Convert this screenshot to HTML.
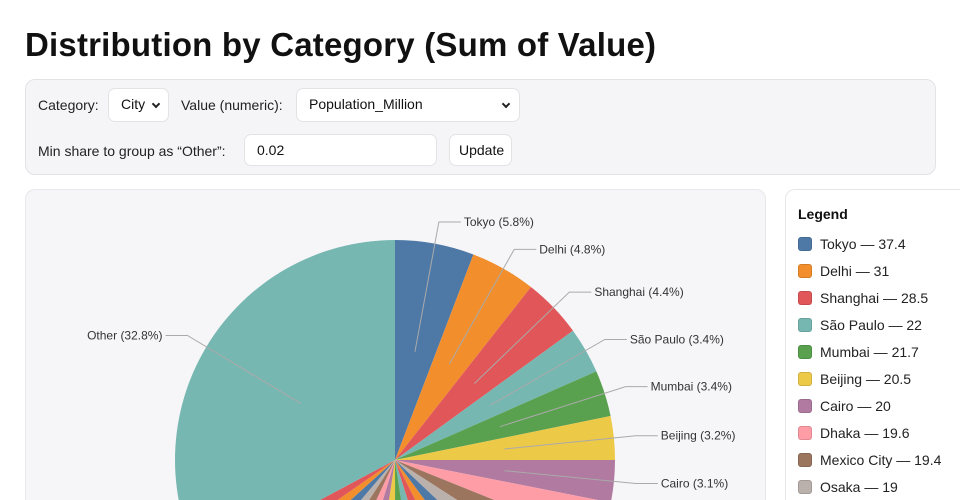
<!DOCTYPE html>
<html><head><meta charset="utf-8">
<style>
*{box-sizing:border-box}
body{margin:0;width:960px;height:500px;overflow:hidden;background:#fff;font-family:"Liberation Sans",sans-serif;color:#111}
h1{position:absolute;left:25px;top:26px;margin:0;font-size:33px;font-weight:bold;letter-spacing:0.2px}
.ctrl{position:absolute;left:25px;top:79px;width:911px;height:96px;background:#f5f5f7;border:1px solid #e3e3e6;border-radius:10px;font-size:14px;color:#222}
.ctrl .lbl{position:absolute}
.box{position:absolute;background:#fff;border:1px solid #e3e3e6;border-radius:7px;font-size:14px;color:#111;padding-left:12px;line-height:30px}
.chv{position:absolute;width:6px;height:6px;border-right:2px solid #222;border-bottom:2px solid #222;transform:rotate(45deg)}
.chart{position:absolute;left:25px;top:189px;width:741px;height:311px;background:#f6f6f8;border:1px solid #e8e8ea;border-bottom:none;border-radius:10px 10px 0 0}
.legend{position:absolute;left:785px;top:189px;width:175px;height:311px;background:#fff;border:1px solid #e6e6e8;border-right:none;border-bottom:none;border-radius:10px 0 0 0}
.legend h3{position:absolute;left:12px;top:16px;margin:0;font-size:14px;font-weight:bold}
.li{position:absolute;left:12px;font-size:14px;color:#222;height:16px;line-height:16px;white-space:nowrap}
.li span{display:inline-block;width:14px;height:14px;border-radius:3px;vertical-align:-2px;margin-right:8px;border:1px solid rgba(0,0,0,0.12)}
svg{position:absolute;left:0;top:0}
</style></head><body>
<h1>Distribution by Category (Sum of Value)</h1>
<div class="ctrl">
 <div class="lbl" style="left:12px;top:17px">Category:</div>
 <div class="box" style="left:82px;top:8px;width:61px;height:34px">City <span class="chv" style="right:9px;top:12px"></span></div>
 <div class="lbl" style="left:155px;top:17px">Value (numeric):</div>
 <div class="box" style="left:270px;top:8px;width:224px;height:34px">Population_Million<span class="chv" style="right:10px;top:12px"></span></div>
 <div class="lbl" style="left:12px;top:63px">Min share to group as “Other”:</div>
 <div class="box" style="left:218px;top:54px;width:193px;height:32px;line-height:30px">0.02</div>
 <div class="box" style="left:423px;top:54px;width:63px;height:32px;padding-left:9px;line-height:30px">Update</div>
</div>
<div class="chart"></div>
<div class="legend"><h3>Legend</h3></div>
<svg id="s" width="960" height="500"></svg>
<script>
var cols=["#4e79a7","#f28e2b","#e15759","#76b7b2","#59a14f","#edc948","#b07aa1","#ff9da7","#9c755f","#bab0ac"];
var named=[["Tokyo",37.4,5.8],["Delhi",31,4.8],["Shanghai",28.5,4.4],["São Paulo",22,3.4],["Mumbai",21.7,3.4],["Beijing",20.5,3.2],["Cairo",20,3.1],["Dhaka",19.6,3.0],["Mexico City",19.4,3.0],["Osaka",19,2.95]];
var rest=[2.8,2.7,2.6,2.5,2.4,2.4,2.3,2.3,2.2,2.1,2.1,2.0,1.9];
var sumN=0;named.forEach(function(d){sumN+=d[2]});
var rs=0;rest.forEach(function(v){rs+=v});
var remain=67.2-sumN;
var sl=[];named.forEach(function(d,i){sl.push({n:d[0],p:d[2],c:cols[i%10],lab:i<7});});
rest.forEach(function(v,i){sl.push({n:"",p:v*remain/rs,c:cols[(i+10)%10],lab:false});});
sl.push({n:"Other",p:32.8,c:"#76b7b2",lab:true});
var cx=395,cy=460,R=220,h="",a=0;
function pt(r,ang){return [cx+r*Math.sin(ang),cy-r*Math.cos(ang)];}
var labs="";
sl.forEach(function(s){
 var a0=a,a1=a+s.p/100*2*Math.PI;a=a1;
 var p0=pt(R,a0),p1=pt(R,a1),lg=(a1-a0)>Math.PI?1:0;
 h+='<path d="M'+cx+','+cy+'L'+p0[0].toFixed(2)+','+p0[1].toFixed(2)+'A'+R+','+R+' 0 '+lg+' 1 '+p1[0].toFixed(2)+','+p1[1].toFixed(2)+'Z" fill="'+s.c+'"/>';
 if(s.lab){
  var m=(a0+a1)/2,q0=pt(R*0.5,m),q1=pt(R*1.1,m);
  var right=Math.sin(m)>=0,ex=q1[0]+(right?22:-22);
  labs+='<polyline points="'+q0[0]+','+q0[1]+' '+q1[0]+','+q1[1]+' '+ex+','+q1[1]+'" fill="none" stroke="#aaa" stroke-width="1"/>';
  var t=s.n+" ("+s.p.toFixed(1)+"%)";
  labs+='<text x="'+(ex+(right?3:-3))+'" y="'+(q1[1]+4)+'" text-anchor="'+(right?"start":"end")+'" font-size="12" fill="#333" stroke="#f6f6f8" stroke-width="3" paint-order="stroke">'+t+'</text>';
 }
});
document.getElementById("s").innerHTML='<svg x="0" y="0" width="960" height="500">'+h+labs+'</svg>';
var lg=document.querySelector(".legend"),y=46;
named.forEach(function(d,i){var e=document.createElement("div");e.className="li";e.style.top=y+"px";e.innerHTML='<span style="background:'+cols[i]+'"></span>'+d[0]+' — '+d[1];lg.appendChild(e);y+=27;});
</script>
</body></html>
